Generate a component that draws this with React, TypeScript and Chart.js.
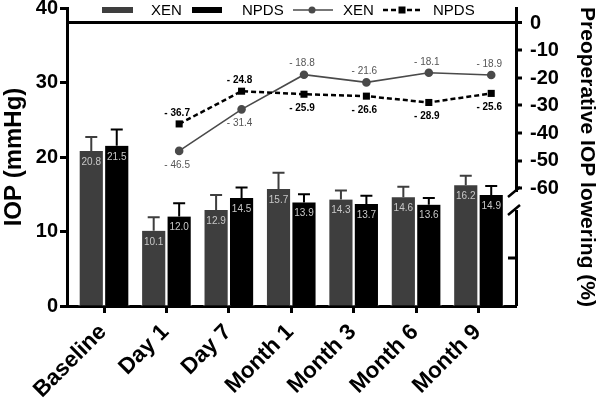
import React, { useEffect, useRef } from 'react';
import { Chart, registerables } from 'chart.js';

Chart.register(...registerables);

const categories = ['Baseline', 'Day 1', 'Day 7', 'Month 1', 'Month 3', 'Month 6', 'Month 9'];
const xenIOP = [20.8, 10.1, 12.9, 15.7, 14.3, 14.6, 16.2];
const npdsIOP = [21.5, 12.0, 14.5, 13.9, 13.7, 13.6, 14.9];
const xenSD = [1.9, 1.8, 2.0, 2.2, 1.2, 1.4, 1.3];
const npdsSD = [2.2, 1.8, 1.4, 1.1, 1.1, 0.9, 1.2];
const xenLowering = [null, -46.5, -31.4, -18.8, -21.6, -18.1, -18.9];
const npdsLowering = [null, -36.7, -24.8, -25.9, -26.6, -28.9, -25.6];
const leftTicks = [0, 10, 20, 30, 40];
const rightTicks = [-60, -50, -40, -30, -20, -10, 0];
const seriesNames = ['XEN', 'NPDS'];

const FONT = "'Liberation Sans', Arial, Helvetica, sans-serif";
const XEN_BAR = '#3e3e3e';
const NPDS_BAR = '#000000';
const XEN_LINE = '#4a4a4a';

const W = 597;
const H = 401;
const AREA = { left: 67, right: 516, top: 8, bottom: 306 };
const X_MIN = -0.593;
const X_MAX = 6.601;
const SHIFT = 0.204;
const BAR_SLOT = 25.5;

const errorBarPlugin = {
  id: 'errorBars',
  afterDatasetsDraw(chart: any) {
    const ctx = chart.ctx;
    const yScale = chart.scales.y;
    const sets = [
      { vals: xenIOP, sds: xenSD, color: XEN_BAR },
      { vals: npdsIOP, sds: npdsSD, color: NPDS_BAR },
    ];
    ctx.save();
    sets.forEach((s, di) => {
      const meta = chart.getDatasetMeta(di);
      meta.data.forEach((bar: any, i: number) => {
        const top = yScale.getPixelForValue(s.vals[i] + s.sds[i]);
        ctx.strokeStyle = s.color;
        ctx.lineWidth = 2;
        ctx.beginPath();
        ctx.moveTo(bar.x, bar.y);
        ctx.lineTo(bar.x, top);
        ctx.moveTo(bar.x - 6, top);
        ctx.lineTo(bar.x + 6, top);
        ctx.stroke();
        ctx.fillStyle = '#c8c8c8';
        ctx.font = `10px ${FONT}`;
        ctx.textAlign = 'center';
        ctx.textBaseline = 'middle';
        ctx.fillText(s.vals[i].toFixed(1), bar.x, bar.y + 11);
      });
    });
    const lines = [
      { vals: xenLowering, other: npdsLowering, color: '#555555', font: `10px ${FONT}` },
      { vals: npdsLowering, other: xenLowering, color: '#000000', font: `bold 10px ${FONT}` },
    ];
    lines.forEach((l, k) => {
      const meta = chart.getDatasetMeta(2 + k);
      meta.data.forEach((pt: any, i: number) => {
        const v = l.vals[i];
        if (v === null || v === undefined) return;
        const o = l.other[i] as number;
        const above = v > o;
        ctx.fillStyle = l.color;
        ctx.font = l.font;
        ctx.textAlign = 'center';
        ctx.textBaseline = 'middle';
        ctx.fillText(`- ${Math.abs(v).toFixed(1)}`, pt.x - 2, above ? pt.y - 11 : pt.y + 14);
      });
    });
    ctx.restore();
  },
};

const decorPlugin = {
  id: 'decor',
  afterDraw(chart: any) {
    const ctx = chart.ctx;
    const ca = chart.chartArea;
    const y2 = chart.scales.y2;
    ctx.save();
    const p60 = y2.getPixelForValue(-60);
    const gapTop = p60 + 4;
    const gapBot = p60 + 22;
    ctx.fillStyle = '#ffffff';
    ctx.fillRect(ca.right - 3, gapTop, 6, gapBot - gapTop);
    ctx.strokeStyle = '#000';
    ctx.lineWidth = 2.5;
    ctx.beginPath();
    ctx.moveTo(ca.right - 8, gapTop + 5);
    ctx.lineTo(ca.right + 4, gapTop - 5);
    ctx.moveTo(ca.right - 8, gapBot + 5);
    ctx.lineTo(ca.right + 4, gapBot - 5);
    ctx.stroke();
    const midLow = (gapBot + ca.bottom) / 2;
    ctx.lineWidth = 3;
    ctx.beginPath();
    ctx.moveTo(ca.right, midLow);
    ctx.lineTo(ca.right - 8, midLow);
    ctx.stroke();

    const ly = 10;
    ctx.font = `15px ${FONT}`;
    ctx.textBaseline = 'middle';
    ctx.textAlign = 'left';
    ctx.fillStyle = XEN_BAR;
    ctx.fillRect(102, ly - 3, 31, 6);
    ctx.fillStyle = '#000';
    ctx.fillText(seriesNames[0], 151, ly + 1);
    ctx.fillStyle = NPDS_BAR;
    ctx.fillRect(192, ly - 3, 30, 6);
    ctx.fillStyle = '#000';
    ctx.fillText(seriesNames[1], 242, ly + 1);
    ctx.strokeStyle = XEN_LINE;
    ctx.lineWidth = 1.5;
    ctx.beginPath();
    ctx.moveTo(293, ly);
    ctx.lineTo(333, ly);
    ctx.stroke();
    ctx.fillStyle = XEN_LINE;
    ctx.beginPath();
    ctx.arc(312, ly, 3.5, 0, Math.PI * 2);
    ctx.fill();
    ctx.fillStyle = '#000';
    ctx.fillText(seriesNames[0], 343, ly + 1);
    ctx.strokeStyle = '#000';
    ctx.lineWidth = 2.5;
    ctx.setLineDash([5, 3]);
    ctx.beginPath();
    ctx.moveTo(383, ly);
    ctx.lineTo(422, ly);
    ctx.stroke();
    ctx.setLineDash([]);
    ctx.fillRect(402 - 3.5, ly - 3.5, 7, 7);
    ctx.fillText(seriesNames[1], 433, ly + 1);
    ctx.restore();
  },
};

const barStyle = {
  type: 'bar',
  yAxisID: 'y',
  grouped: false,
  barThickness: BAR_SLOT,
  borderColor: '#ffffff',
  borderWidth: { left: 1.5, right: 1.5, top: 0, bottom: 0 },
  borderSkipped: false,
  order: 2,
};

export default function App() {
  const ref = useRef<HTMLCanvasElement>(null);
  useEffect(() => {
    document.body.style.margin = '0';
    const chart = new Chart(ref.current as HTMLCanvasElement, {
      type: 'bar',
      data: {
        datasets: [
          {
            ...barStyle,
            label: seriesNames[0],
            xAxisID: 'xa',
            data: categories.map((_, i) => ({ x: i, y: xenIOP[i] })),
            backgroundColor: XEN_BAR,
          } as any,
          {
            ...barStyle,
            label: seriesNames[1],
            xAxisID: 'xl',
            data: categories.map((_, i) => ({ x: i, y: npdsIOP[i] })),
            backgroundColor: NPDS_BAR,
          } as any,
          {
            type: 'line',
            label: seriesNames[0],
            data: categories.map((_, i) => ({ x: i, y: xenLowering[i] })),
            xAxisID: 'xl',
            yAxisID: 'y2',
            borderColor: XEN_LINE,
            backgroundColor: XEN_LINE,
            borderWidth: 1.6,
            pointStyle: 'circle',
            pointRadius: 3.5,
            pointBackgroundColor: XEN_LINE,
            pointBorderColor: XEN_LINE,
            order: 1,
          } as any,
          {
            type: 'line',
            label: seriesNames[1],
            data: categories.map((_, i) => ({ x: i, y: npdsLowering[i] })),
            xAxisID: 'xl',
            yAxisID: 'y2',
            borderColor: '#000',
            backgroundColor: '#000',
            borderWidth: 2.5,
            borderDash: [5, 3],
            pointStyle: 'rect',
            pointRadius: 5,
            pointBorderWidth: 0,
            pointBackgroundColor: '#000',
            order: 0,
          } as any,
        ],
      },
      options: {
        responsive: false,
        animation: false,
        layout: { padding: { top: AREA.top, left: 0, right: 0, bottom: 0 } },
        plugins: { legend: { display: false }, tooltip: { enabled: false } },
        scales: {
          x: {
            type: 'linear',
            position: 'bottom',
            offset: false,
            min: X_MIN,
            max: X_MAX,
            afterBuildTicks: (s: any) => {
              s.ticks = categories.map((_, i) => ({ value: i }));
            },
            afterFit: (s: any) => {
              s.height = H - AREA.bottom;
              s.paddingLeft = 0;
              s.paddingRight = 0;
            },
            ticks: {
              autoSkip: false,
              minRotation: 45,
              maxRotation: 45,
              padding: 6,
              labelOffset: -1,
              color: '#000',
              font: { family: FONT, size: 22.5, weight: 'bold' },
              callback: (v: any) => categories[v] ?? '',
            },
            grid: { offset: false, drawOnChartArea: false, tickLength: 7, tickWidth: 3, tickColor: '#000' },
            border: { color: '#000', width: 3 },
          },
          xa: {
            type: 'linear',
            display: false,
            offset: false,
            min: X_MIN + SHIFT,
            max: X_MAX + SHIFT,
          },
          xl: {
            type: 'linear',
            display: false,
            offset: false,
            min: X_MIN - SHIFT,
            max: X_MAX - SHIFT,
          },
          y: {
            type: 'linear',
            position: 'left',
            min: 0,
            max: 40,
            afterBuildTicks: (s: any) => {
              s.ticks = leftTicks.map((v) => ({ value: v }));
            },
            afterFit: (s: any) => {
              s.width = AREA.left;
              s.paddingTop = 0;
              s.paddingBottom = 0;
            },
            ticks: {
              padding: 2,
              color: '#000',
              font: { family: FONT, size: 20, weight: 'bold' },
            },
            grid: { drawOnChartArea: false, tickLength: 7, tickWidth: 3, tickColor: '#000' },
            border: { color: '#000', width: 3 },
            title: {
              display: true,
              text: 'IOP (mmHg)',
              color: '#000',
              padding: { top: 0, bottom: 0 },
              font: { family: FONT, size: 24, weight: 'bold', lineHeight: 1.2 },
            },
          },
          y2: {
            type: 'linear',
            position: 'right',
            min: -102.9,
            max: 5.45,
            afterBuildTicks: (s: any) => {
              s.ticks = rightTicks.map((v) => ({ value: v }));
            },
            afterFit: (s: any) => {
              s.width = W - AREA.right;
              s.paddingTop = 0;
              s.paddingBottom = 0;
            },
            ticks: {
              padding: 8,
              color: '#000',
              font: { family: FONT, size: 20, weight: 'bold' },
            },
            grid: {
              drawOnChartArea: true,
              color: (c: any) => (c.tick && c.tick.value === 0 ? '#000' : 'rgba(0,0,0,0)'),
              lineWidth: (c: any) => (c.tick && c.tick.value === 0 ? 3 : 0),
              tickLength: 6,
              tickWidth: 3,
              tickColor: '#000',
            },
            border: { color: '#000', width: 3 },
            title: {
              display: true,
              text: 'Preoperative IOP lowering (%)',
              color: '#000',
              padding: { top: 0, bottom: 0 },
              font: { family: FONT, size: 21, weight: 'bold', lineHeight: 1 },
            },
          },
        },
      } as any,
      plugins: [errorBarPlugin, decorPlugin],
    });
    return () => chart.destroy();
  }, []);
  return <canvas ref={ref} width={W} height={H} style={{ display: 'block' }} />;
}
